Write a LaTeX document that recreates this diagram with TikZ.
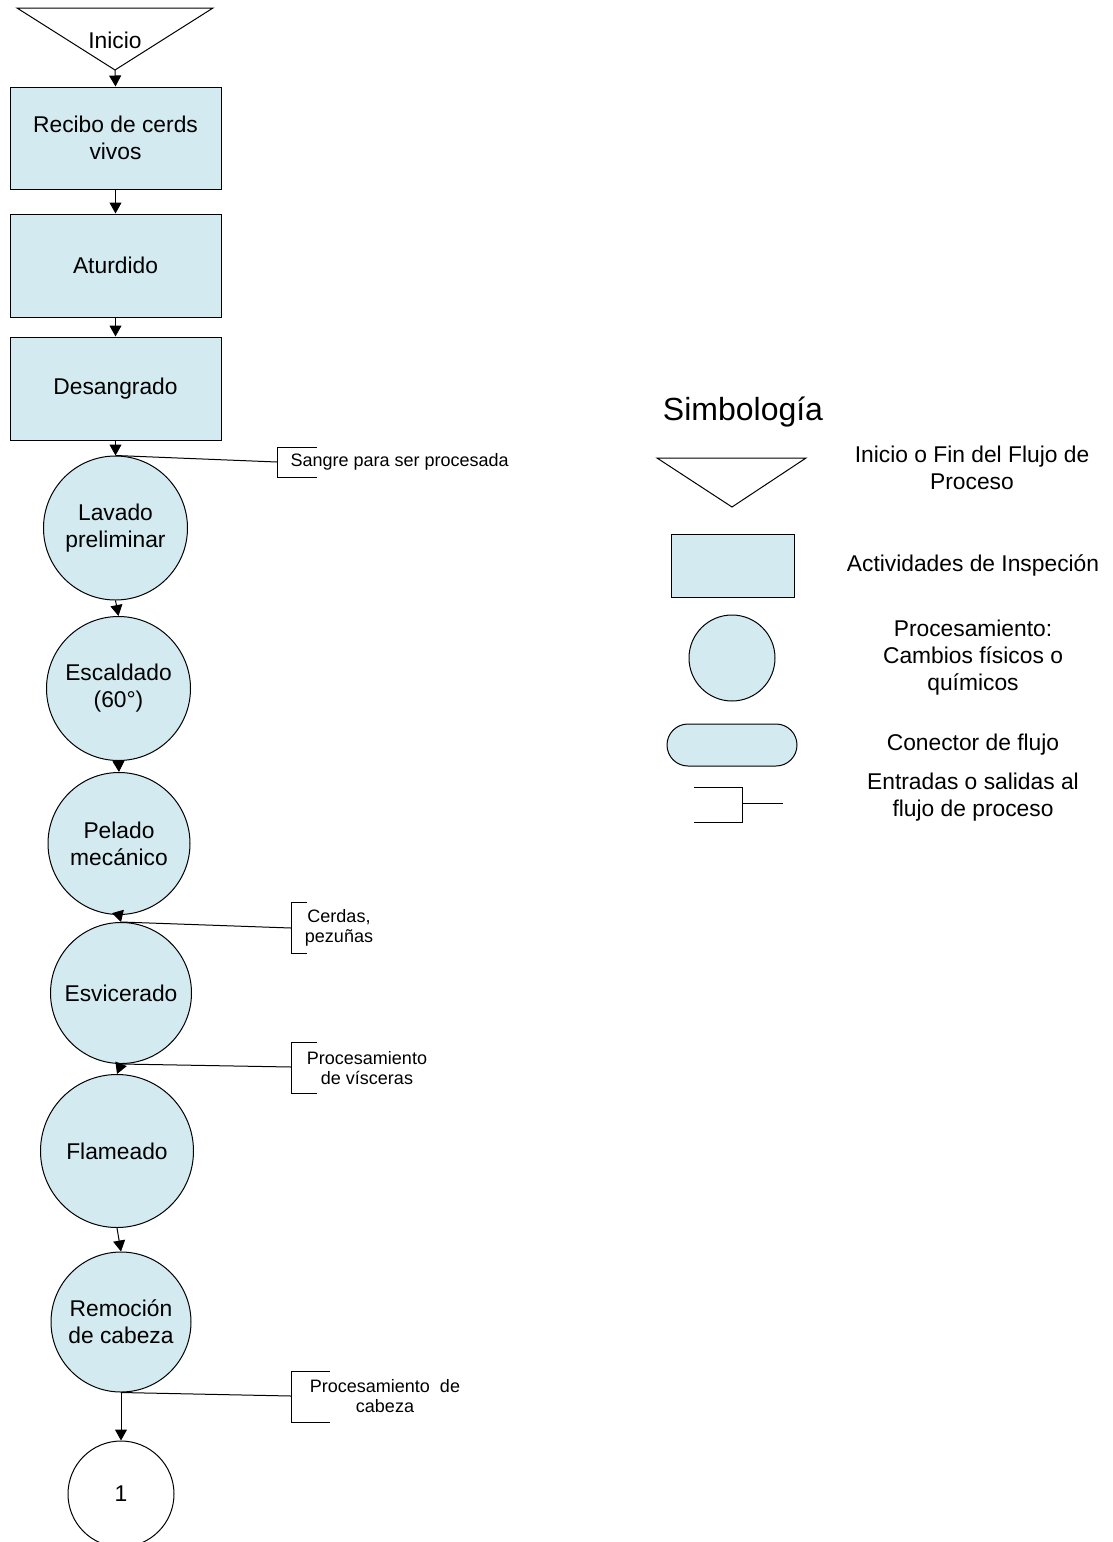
\documentclass[tikz,border=0pt]{standalone}
\usepackage{fontspec}
\setmainfont{Liberation Sans}
\usetikzlibrary{arrows.meta}
\definecolor{procfill}{RGB}{210,234,240}
\begin{document}
\begin{tikzpicture}[x=0.5pt,y=-0.5pt,
  line width=0.5pt,
  every node/.style={inner sep=0pt, align=center},
  mainfont/.style={font=\fontsize{11.4pt}{13.5pt}\selectfont},
  notefont/.style={font=\fontsize{9pt}{10pt}\selectfont},
  actbox/.style={draw, fill=procfill, rectangle, minimum width=105.5pt, minimum height=51pt, mainfont},
  proc/.style={draw, fill=procfill, circle, mainfont},
  flow/.style={-{Triangle[length=5.5pt,width=6pt]}},
  bracket/.style={line width=0.5pt}
]
\useasboundingbox (0,0) rectangle (1113,1542);

% ---------- start symbol ----------
\draw (17,8) -- (213,8) -- (115,70) -- cycle;
\node[mainfont] (inicio) at (115,40) {Inicio};
\coordinate (inicioTip) at (115,70);

% ---------- activity boxes ----------
\node[actbox] (recibo) at (115.5,138) {Recibo de cerds\\vivos};
\node[actbox, minimum height=51.5pt] (aturdido) at (115.5,265.5) {Aturdido};
\node[actbox, minimum height=51.5pt] (desangrado) at (115.5,388.5) {Desangrado};

% ---------- processing circles ----------
\node[proc, minimum size=72pt] (lavado) at (115.5,528) {Lavado\\preliminar};
\node[proc, minimum size=72pt] (escaldado) at (118.5,688.5) {Escaldado\\(60°)};
\node[proc, minimum size=71pt] (pelado) at (119,843.5) {Pelado\\mecánico};
\node[proc, minimum size=70.5pt] (esvicerado) at (121,993) {Esvicerado};
\node[proc, minimum size=76.5pt] (flameado) at (117,1151) {Flameado};
\node[proc, minimum size=70pt] (remocion) at (121,1322) {Remoción\\de cabeza};
\node[draw, fill=white, circle, minimum size=53pt, mainfont] (con1) at (121,1494) {1};

% ---------- main flow ----------
\draw[flow] (inicioTip) -- (recibo.north);
\draw[flow] (recibo.south) -- (aturdido.north);
\draw[flow] (aturdido.south) -- (desangrado.north);
\draw[flow] (desangrado.south) -- (lavado.north);
\draw[flow] (lavado.south) -- (escaldado.north);
\draw[flow] (escaldado.south) -- (pelado.north);
\draw[flow] (pelado.south) -- (esvicerado.north);
\draw[flow] (esvicerado.south) -- (flameado.north);
\draw[flow] (flameado.south) -- (remocion.north);
\draw[flow] (remocion.south) -- (con1.north);

% ---------- outputs of the process ----------
\coordinate (outSangre) at (277,462);
\draw (lavado.north) -- (outSangre);
\draw[bracket] (317,447) -- (277,447) -- (277,477) -- (317,477);
\node[notefont, anchor=west] (sangre) at (290,462) {Sangre para ser procesada};

\coordinate (outCerdas) at (291,928);
\draw (esvicerado.north) -- (outCerdas);
\draw[bracket] (307,902) -- (291,902) -- (291,953) -- (307,953);
\node[notefont] (cerdas) at (339,928) {Cerdas,\\pezuñas};

\coordinate (outVisceras) at (291,1067);
\draw (esvicerado.south) -- (outVisceras);
\draw[bracket] (317,1042) -- (291,1042) -- (291,1093) -- (317,1093);
\node[notefont] (visceras) at (367,1068) {Procesamiento\\de vísceras};

\coordinate (outCabeza) at (291,1396);
\draw (remocion.south) -- (outCabeza);
\draw[bracket] (330,1371) -- (291,1371) -- (291,1422) -- (330,1422);
\node[notefont] (cabeza) at (385,1396) {Procesamiento\ \ de\\cabeza};

% ---------- legend ----------
\node[font=\fontsize{16pt}{18pt}\selectfont] (simbologia) at (743,412) {Simbología};

\draw (657,458) -- (806,458) -- (732,507) -- cycle;
\node[mainfont] (legIni) at (972,468) {Inicio o Fin del Flujo de\\Proceso};

\draw[fill=procfill] (671,534) rectangle (794,597);
\node[mainfont] (legAct) at (973,565) {Actividades de Inspeción};

\draw[fill=procfill] (732,658) circle[radius=43];
\node[mainfont] (legProc) at (973,658) {Procesamiento:\\Cambios físicos o\\químicos};

\draw[fill=procfill, rounded corners=10.5pt] (667,724) rectangle (797,766);
\node[mainfont] (legCon) at (973,745) {Conector de flujo};

\draw[bracket] (694,787) -- (742,787) -- (742,822) -- (694,822);
\draw (742,803) -- (783,803);
\node[mainfont] (legIO) at (973,797) {Entradas o salidas al\\flujo de proceso};
\end{tikzpicture}
\end{document}
